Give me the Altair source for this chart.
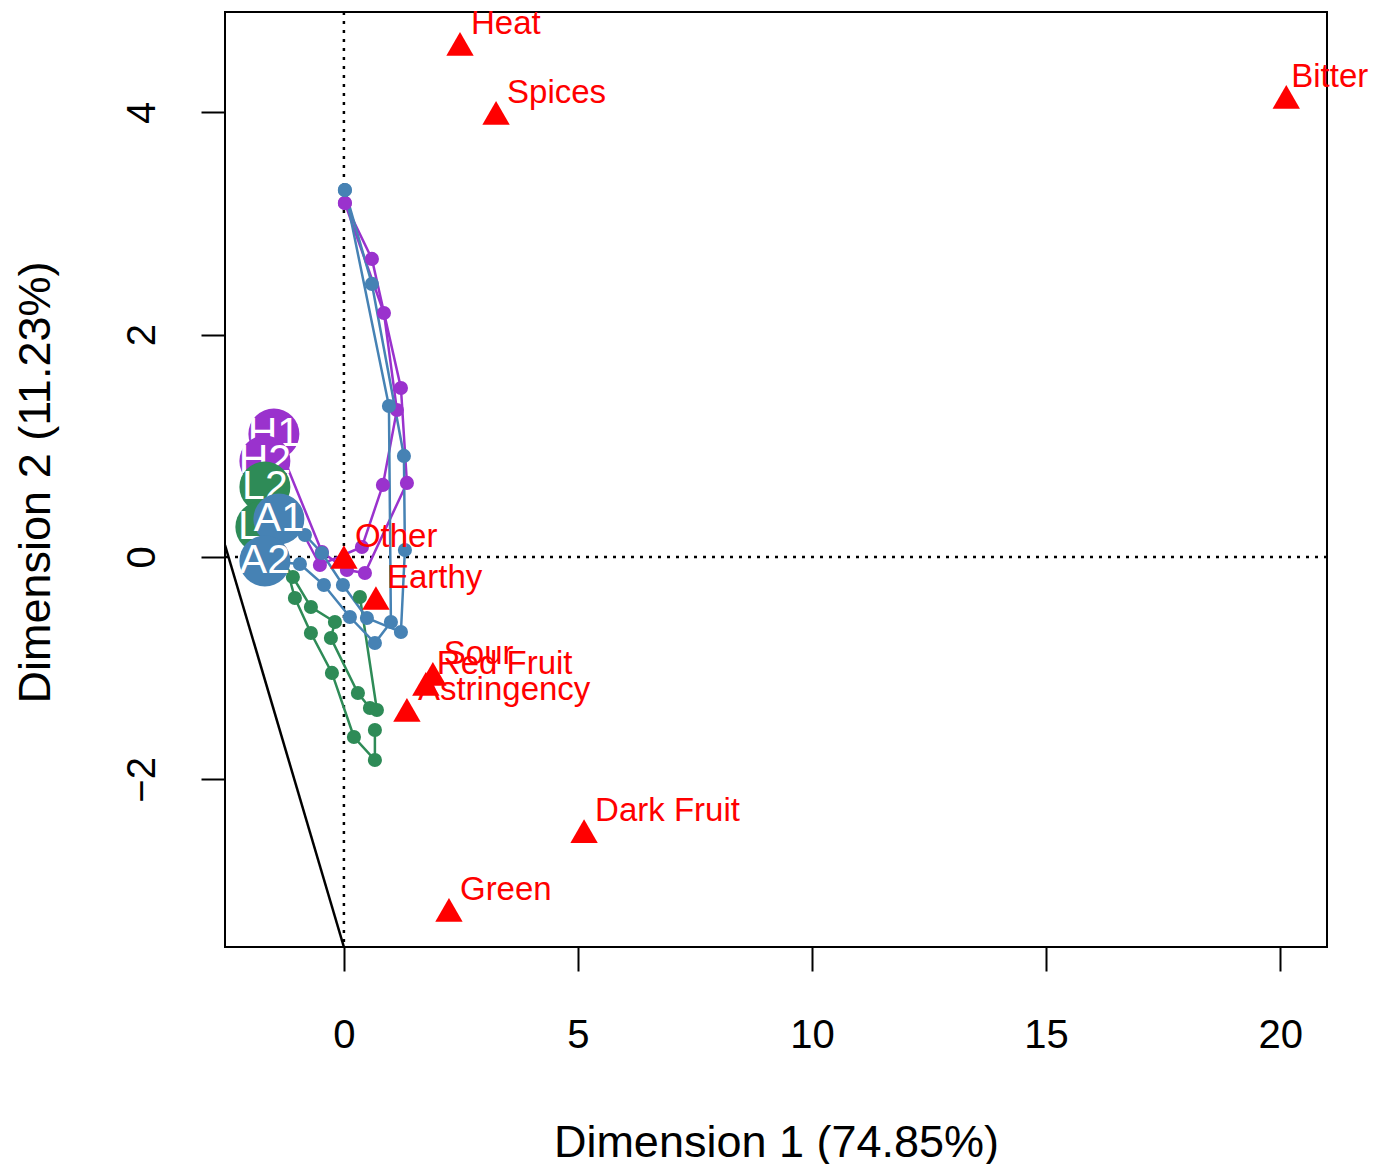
import altair as alt
import pandas as pd

# ---------------- data ----------------
product_names = ["H1", "H2", "L2", "L1", "A1", "A2"]
product_colors = ["#9A32CD", "#9A32CD", "#2E8B57", "#2E8B57", "#4682B4", "#4682B4"]

# trajectories: first point = labelled start circle
h1_x = [-1.496, -0.470, 0.064, 0.449, 1.346, 1.218, 0.598, 0.021]
h1_y = [1.106, 0.045, -0.117, -0.144, 0.666, 1.520, 2.681, 3.184]
h2_x = [-1.688, -0.513, 0.385, 0.833, 1.132, 0.855, 0.021]
h2_y = [0.864, -0.072, 0.090, 0.648, 1.322, 2.195, 3.184]
l2_x = [-1.688, -1.047, -0.705, -0.256, 0.214, 0.662, 0.662]
l2_y = [0.630, -0.369, -0.684, -1.043, -1.619, -1.826, -1.556]
l1_x = [-1.774, -1.090, -0.705, -0.192, -0.278, 0.299, 0.556, 0.705, 0.342]
l1_y = [0.270, -0.180, -0.450, -0.585, -0.729, -1.223, -1.358, -1.376, -0.360]
a1_x = [-1.389, -0.833, -0.470, -0.021, 0.491, 1.218, 1.303, 1.282, 0.598, 0.021]
a1_y = [0.342, 0.198, 0.036, -0.252, -0.549, -0.675, 0.063, 0.909, 2.456, 3.301]
a2_x = [-1.688, -0.940, -0.427, 0.128, 0.662, 1.004, 0.962, 0.021]
a2_y = [-0.036, -0.063, -0.252, -0.540, -0.774, -0.585, 1.358, 3.301]

attribute_names = ["Heat", "Spices", "Bitter", "Other", "Earthy", "Sour",
                   "Red Fruit", "Astringency", "Dark Fruit", "Green"]
attribute_x = [2.48, 3.25, 20.13, 0.0, 0.684, 1.90, 1.75, 1.346, 5.13, 2.244]
attribute_y = [4.615, 3.994, 4.138, 0.0, -0.369, -1.052, -1.142, -1.376, -2.465, -3.175]

boundary_x = [-2.54, 0.0]
boundary_y = [0.108, -3.508]

x_ticks = [0, 5, 10, 15, 20]
y_ticks = [-2, 0, 2, 4]
x_domain = [-2.54, 21.0]
y_domain = [-3.508, 4.902]

x_title = "Dimension 1 (74.85%)"
y_title = "Dimension 2 (11.23%)"

# ---------------- tables ----------------
traj_x = [h1_x, h2_x, l2_x, l1_x, a1_x, a2_x]
traj_y = [h1_y, h2_y, l2_y, l1_y, a1_y, a2_y]
rows = []
for name, xs_, ys_ in zip(product_names, traj_x, traj_y):
    for i, (xv, yv) in enumerate(zip(xs_, ys_)):
        rows.append({"product": name, "step": i, "x": xv, "y": yv})
traj = pd.DataFrame(rows)
starts = traj[traj["step"] == 0]
dots = traj[traj["step"] > 0]
attrs = pd.DataFrame({"name": attribute_names, "x": attribute_x, "y": attribute_y})
boundary = pd.DataFrame({"x": boundary_x, "y": boundary_y})

FONT = "Liberation Sans"
W, H = 1102, 935

x_axis = alt.Axis(values=x_ticks, title=x_title, grid=False, domain=False,
                  tickSize=24, tickWidth=2, tickColor="black",
                  labelFontSize=40, labelColor="black", labelFont=FONT,
                  labelPadding=44, labelFlush=False,
                  titleFontSize=45, titleFont=FONT, titleFontWeight="normal",
                  titleColor="black", titleX=W / 2, titleY=195,
                  titleBaseline="middle", titleAlign="center")
y_axis = alt.Axis(values=y_ticks, title=y_title, grid=False, domain=False,
                  tickSize=24, tickWidth=2, tickColor="black",
                  labelFontSize=40, labelColor="black", labelFont=FONT,
                  labelAngle=270, labelAlign="center", labelBaseline="bottom",
                  labelPadding=39, labelFlush=False,
                  titleFontSize=45, titleFont=FONT, titleFontWeight="normal",
                  titleColor="black", titleX=-190, titleY=470, titleAngle=270,
                  titleBaseline="middle", titleAlign="center")

xs = alt.Scale(domain=x_domain, nice=False, zero=False)
ys = alt.Scale(domain=y_domain, nice=False, zero=False)


def X():
    return alt.X("x:Q", scale=xs, axis=x_axis)


def Y():
    return alt.Y("y:Q", scale=ys, axis=y_axis)


color_enc = alt.Color("product:N", scale=alt.Scale(domain=product_names, range=product_colors),
                      legend=None)

vzero = alt.Chart(pd.DataFrame({"x": [0]})).mark_rule(
    color="black", strokeWidth=2.5, strokeDash=[3, 6]).encode(x=X())
hzero = alt.Chart(pd.DataFrame({"y": [0]})).mark_rule(
    color="black", strokeWidth=2.5, strokeDash=[3, 6]).encode(y=Y())

bline = alt.Chart(boundary).mark_line(color="black", strokeWidth=2.5, clip=True).encode(
    x=X(), y=Y())

lines = alt.Chart(traj).mark_line(strokeWidth=2.5).encode(
    x=X(), y=Y(), color=color_enc, detail="product:N", order="step:Q")

pts = alt.Chart(dots).mark_circle(size=200, opacity=1).encode(
    x=X(), y=Y(), color=color_enc)

layers = [vzero, hzero, bline, lines, pts]
for name, col in zip(product_names, product_colors):
    sub = starts[starts["product"] == name]
    layers.append(alt.Chart(sub).mark_circle(size=2600, opacity=1, color=col).encode(
        x=X(), y=Y()))
    layers.append(alt.Chart(sub).mark_text(
        color="white", fontSize=41, font=FONT, align="center", baseline="middle").encode(
        x=X(), y=Y(), text="product:N"))

tri = alt.Chart(attrs).mark_point(shape="triangle-up", filled=True, size=750,
                                  color="red", opacity=1).encode(x=X(), y=Y())
tri_lab = alt.Chart(attrs[attrs["name"] != "Bitter"]).mark_text(
    color="red", fontSize=33, font=FONT, align="left",
    baseline="middle", dx=11, dy=-20).encode(x=X(), y=Y(), text="name:N")
# the label at the far right edge sits a little closer so that it stays inside the page
tri_lab_edge = alt.Chart(attrs[attrs["name"] == "Bitter"]).mark_text(
    color="red", fontSize=33, font=FONT, align="left",
    baseline="middle", dx=5, dy=-20).encode(x=X(), y=Y(), text="name:N")
layers += [tri, tri_lab, tri_lab_edge]

chart = alt.layer(*layers).properties(
    width=W, height=H,
    autosize=alt.AutoSizeParams(type="none"),
    padding={"left": 217, "top": 4, "right": 42, "bottom": 217},
).configure(
    font=FONT, background="white",
    view=alt.ViewConfig(stroke="black", strokeWidth=2),
)

chart.save("out.html", embed_options={"renderer": "svg", "actions": False})
